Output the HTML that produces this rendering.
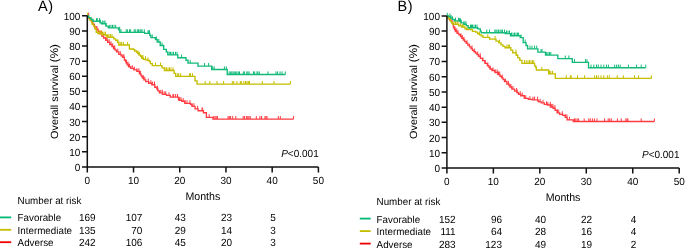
<!DOCTYPE html>
<html><head><meta charset="utf-8"><style>
html,body{margin:0;padding:0;background:#fff;}
svg{display:block;will-change:transform;}
text{font-family:"Liberation Sans", sans-serif;fill:#000;text-rendering:geometricPrecision;}
</style></head><body>
<svg width="685" height="248" viewBox="0 0 685 248">
<rect width="685" height="248" fill="#fff"/>
<path d="M88.6 15.8v-3.1M94.5 26.9v-3.1M97 29.2v-3.1M100 33.8v-3.1M103 36.1v-3.1M106 40.3v-3.1M109.1 42.3v-3.1M112.7 46.5v-3.1M114.7 48.5v-3.1M117.8 51.8v-3.1M120.3 54.3v-3.1M122.9 57.4v-3.1M123.9 57.4v-3.1M126.6 63v-3.1M129.5 66.7v-3.1M132.3 68.3v-3.1M134.3 69.8v-3.1M136.9 71.3v-3.1M138.9 71.3v-3.1M140.4 73.9v-3.1M144.8 79.8v-3.1M148.3 81.6v-3.1M152.6 84.7v-3.1M154.5 84.7v-3.1M157.4 89v-3.1M160.8 92.9v-3.1M165.7 94.4v-3.1M169 95.4v-3.1M172.9 97.1v-3.1M173.6 97.1v-3.1M177.5 97.1v-3.1M181 100.2v-3.1M185 103.3v-3.1M189.9 103.3v-3.1M192 106.3v-3.1M194 106.3v-3.1M197.6 108.9v-3.1M202 110.7v-3.1M202.7 110.7v-3.1M209.2 117.3v-3.1M213.8 119.1v-3.1M215 119.1v-3.1M216.2 119.1v-3.1M217.4 119.1v-3.1M228.1 119.1v-3.1M229.3 119.1v-3.1M230.6 119.1v-3.1M232.7 119.1v-3.1M235.8 119.1v-3.1M243.2 119.1v-3.1M244.6 119.1v-3.1M246.6 119.1v-3.1M247.8 119.1v-3.1M249 119.1v-3.1M250.2 119.1v-3.1M256.3 119.1v-3.1M259.9 119.1v-3.1M261.5 119.1v-3.1M265 119.1v-3.1M266 119.1v-3.1M267 119.1v-3.1M278.3 119.1v-3.1M280.3 119.1v-3.1M293.6 119.1v-3.1M92 21.9v-3.1M101.5 33.8v-3.1M107.2 40.3v-3.1M111 44.5v-3.1M128.1 64.85v-3.1M143.3 78.4v-3.1M150.9 83.2v-3.1M162.3 92.9v-3.1M164.2 94.4v-3.1M175.6 97.1v-3.1M179.4 100.2v-3.1M183.2 101.2v-3.1M187 103.3v-3.1" fill="none" stroke="#FF3A40" stroke-width="1.0"/>
<path d="M87.3 15.8H88.7V18.5H90.62V20.2H91.67V21.9H92.85V24.3H94.4V26.9H96.2V29.2H98.05V31.5H99.9V33.8H101.75V36.1H103.65V38H105.75V40.3H107.7V42.3H109.75V44.5H111.95V46.5H113.55V48.5H114.97V50.15H116.53V51.8H118.8V54.3H121.08V55.85H122.62V57.4H124.4V60H125.68V61.5H126.22V63H127.17V64.85H128.52V66.7H130.75V68.3H133.8V69.8H136.85V71.3H139.4V73.9H140.93V75.45H141.97V77H142.95V78.4H143.85V79.8H145.75V81.6H148.7V83.2H151.75V84.7H154.8V87.2H156.83V89H157.88V90.8H159.4V92.9H162.45V94.4H166.55V95.4H170.3V97.1H178.5V99.7H179.35V100.2H181.75V101.2H184.8V103.3H190.5V104.3H192V106.3H195.05V108.9H198.1V110.7H203.4V112.7H206.4V117.3H213V119.1H293.6" fill="none" stroke="#FF3A40" stroke-width="1.35" stroke-linejoin="miter"/>
<path d="M87.6 15.8v-3.1M99 33.6v-3.1M100 33.6v-3.1M101.3 33.6v-3.1M102.5 34.7v-3.1M104 34.7v-3.1M105.5 34.7v-3.1M107.8 37.2v-3.1M109 37.2v-3.1M110.5 37.2v-3.1M112 37.2v-3.1M117.9 42.3v-3.1M120.2 45v-3.1M121.6 45v-3.1M123.4 45v-3.1M127.6 45v-3.1M138 53.5v-3.1M139.5 55v-3.1M142 58.2v-3.1M143 58.2v-3.1M145.5 59.3v-3.1M148 60.5v-3.1M155.5 65.6v-3.1M160.5 65.6v-3.1M165 70.5v-3.1M166.5 70.5v-3.1M168 70.5v-3.1M169.5 70.5v-3.1M171 70.5v-3.1M173 70.5v-3.1M177.7 76.3v-3.1M178.7 76.3v-3.1M180.7 76.3v-3.1M189.4 76.3v-3.1M190.5 76.3v-3.1M192.5 76.3v-3.1M205.2 84.1v-3.1M209.8 84.1v-3.1M217 84.1v-3.1M223.6 84.1v-3.1M232.3 84.1v-3.1M233.8 84.1v-3.1M236.9 84.1v-3.1M240.3 84.1v-3.1M241.3 84.1v-3.1M243.9 84.1v-3.1M245.5 84.1v-3.1M247 84.1v-3.1M248.3 84.1v-3.1M249.5 84.1v-3.1M262.3 84.1v-3.1M274 84.1v-3.1M290.4 84.1v-3.1" fill="none" stroke="#C4BD00" stroke-width="1.0"/>
<path d="M87.3 15.8H88.22V18.15H90.08V20.5H92V24H93.5V25.8H94.75V28.7H96.25V32.2H97.8V33.6H101.8V34.7H106V35.7H107.3V37.2H113.8V38.9H115.7V40.3H117.5V42.3H118.8V45H129.4V49H133.5V49.6H134.7V51H136.5V52.2H137.6V53.5H139V55H140.5V56.2H141.6V58.2H143.4V59.3H145.6V59.8H147.7V60.5H149.6V61.6H150.4V63.6H152.3V65.6H162V67.8H164.4V70.5H174.1V73.4H175.7V76.3H195V80.8H197.1V84.1H290.4" fill="none" stroke="#C4BD00" stroke-width="1.35" stroke-linejoin="miter"/>
<path d="M96.5 21.2v-3.1M97.3 21.2v-3.1M99.5 21.2v-3.1M100.6 22.8v-3.1M102.7 23.7v-3.1M104 23.7v-3.1M105 23.7v-3.1M106 26.1v-3.1M109.7 27.9v-3.1M111 27.9v-3.1M112.5 27.9v-3.1M114 27.9v-3.1M115.7 27.9v-3.1M119.7 29.8v-3.1M121 32.4v-3.1M126.2 32.4v-3.1M127.4 32.4v-3.1M129.5 32.4v-3.1M130.7 32.4v-3.1M134.1 32.4v-3.1M135.3 32.4v-3.1M137.3 32.4v-3.1M138.5 32.4v-3.1M140 32.4v-3.1M141 32.4v-3.1M142 32.4v-3.1M144.3 32.4v-3.1M148 33.4v-3.1M148.8 33.4v-3.1M149.5 33.4v-3.1M152.3 37.6v-3.1M156.3 39.5v-3.1M158.8 42v-3.1M162 45.5v-3.1M169.3 54.9v-3.1M170.5 54.9v-3.1M172 54.9v-3.1M173.5 54.9v-3.1M175.5 54.9v-3.1M177 54.9v-3.1M181.5 57.7v-3.1M190.2 63.1v-3.1M204.5 66.1v-3.1M208.6 66.1v-3.1M212.7 69.5v-3.1M214.2 69.5v-3.1M224.4 69.5v-3.1M226.3 69.5v-3.1M229.2 74.5v-3.1M230.7 74.5v-3.1M231.8 74.5v-3.1M233 74.5v-3.1M234.2 74.5v-3.1M235.4 74.5v-3.1M236.8 74.5v-3.1M238.3 74.5v-3.1M239.5 74.5v-3.1M243.3 74.5v-3.1M244.4 74.5v-3.1M246.8 74.5v-3.1M247.9 74.5v-3.1M249.1 74.5v-3.1M253.5 74.5v-3.1M254.7 74.5v-3.1M257 74.5v-3.1M257.9 74.5v-3.1M259.3 74.5v-3.1M267.9 74.5v-3.1M276 74.5v-3.1M277.5 74.5v-3.1M280 74.5v-3.1M282 74.5v-3.1M285.3 74.5v-3.1" fill="none" stroke="#12B979" stroke-width="1.0"/>
<path d="M87.3 15.8H88.65V17.6H91V19.5H93V21.2H100V22.8H101.5V23.7H106V26.1H108.3V27.9H118.5V29.8H119.8V32.4H144.7V33.4H149.8V35.3H150.9V37.6H155.4V39.5H157.2V42H160.2V45.5H163.7V49.3H166.3V51.8H167.8V54.9H177.8V57.7H186V60.2H188V63.1H198V66.1H211.7V69.5H227.2V74.5H285.3" fill="none" stroke="#12B979" stroke-width="1.35" stroke-linejoin="miter"/>
<path d="M448.8 18.5v-3.1M452 22.7v-3.1M455 29.6v-3.1M458 33.3v-3.1M461 36.5v-3.1M464 40v-3.1M467 43.3v-3.1M469.5 46.9v-3.1M472 48.6v-3.1M474.6 51.7v-3.1M477.7 54.65v-3.1M480.2 56.2v-3.1M482.8 60.6v-3.1M485.3 63.3v-3.1M487.9 65.7v-3.1M490.4 69v-3.1M493 70.5v-3.1M495 72.5v-3.1M497.2 72.5v-3.1M499.7 74.6v-3.1M502.3 77.8v-3.1M505.3 81.5v-3.1M508.4 84v-3.1M510.9 87v-3.1M513 89.1v-3.1M516.6 91.1v-3.1M517.2 92.65v-3.1M520.2 94.2v-3.1M522.3 95.7v-3.1M525.8 98.3v-3.1M529.9 99.3v-3.1M533 99.8v-3.1M537.6 99.8v-3.1M540.1 101.9v-3.1M543 102.9v-3.1M546.5 104.4v-3.1M550.3 105v-3.1M552.9 107v-3.1M554.9 108.2v-3.1M558.7 112.8v-3.1M562.3 114.3v-3.1M565.3 117.4v-3.1M569.4 119.9v-3.1M574.5 121.5v-3.1M575.8 121.5v-3.1M577.2 121.5v-3.1M578.6 121.5v-3.1M584.2 121.5v-3.1M588.8 121.5v-3.1M590.3 121.5v-3.1M592.4 121.5v-3.1M594.4 121.5v-3.1M597 121.5v-3.1M604.6 121.5v-3.1M608.2 121.5v-3.1M609.7 121.5v-3.1M611.3 121.5v-3.1M617.4 121.5v-3.1M621.2 121.5v-3.1M625.8 121.5v-3.1M627 121.5v-3.1M627.9 121.5v-3.1M641.2 121.5v-3.1M654.4 121.5v-3.1M456.7 31.5v-3.1M462.4 38.25v-3.1M498.5 74.6v-3.1M534.6 99.8v-3.1M547.9 105v-3.1M551.7 107v-3.1M557.4 112.8v-3.1M566.9 117.4v-3.1" fill="none" stroke="#FF3A40" stroke-width="1.0"/>
<path d="M446.9 15.9H448.05V18.5H449.77V19.9H450.93V21.3H451.85V22.7H452.55V24.1H453.35V26.8H454.02V28.2H454.48V29.6H455.4V31.5H457.05V33.3H458.9V34.7H460.45V36.5H461.83V38.25H463.27V40H464.75V41.65H466.25V43.3H467.82V45.1H469.48V46.9H471.02V48.6H472.48V50.3H473.98V51.7H475.52V53.1H477.02V54.65H478.48V56.2H480.35V58.4H482.55V60.6H484.95V63.3H487.4V65.7H489V67.35H490V69H492V70.5H495V72.5H497.85V74.6H499.98V76.2H501.52V77.8H503.05V79.65H504.55V81.5H506.85V84H508.92V85.5H509.98V87H511.8V89.1H514.6V91.1H516.88V92.65H518.43V94.2H520.75V95.7H524.3V98.3H528.35V99.3H532.45V99.8H538V101.2H538.8V101.9H541.15V102.9H544.25V104.4H547.3V105H550.35V107H553V108.2H555.1V110.2H557.15V112.8H559.7V114.3H562.75V115.3H565.3V117.4H567.1V119.9H573.3V121.5H654.4" fill="none" stroke="#FF3A40" stroke-width="1.35" stroke-linejoin="miter"/>
<path d="M460.3 25.9v-3.1M462.2 27.1v-3.1M464 27.1v-3.1M454 24.3v-3.1M455.5 24.3v-3.1M457 24.3v-3.1M458 24.3v-3.1M463 27.1v-3.1M467 29.6v-3.1M469 29.6v-3.1M471 29.6v-3.1M479.5 34.8v-3.1M487.8 37.4v-3.1M495.1 39.1v-3.1M499.5 42.8v-3.1M507 47.7v-3.1M508.3 47.7v-3.1M509.5 47.7v-3.1M516 52.7v-3.1M524.5 63.3v-3.1M526.2 63.3v-3.1M528 63.3v-3.1M529.5 63.3v-3.1M531 63.3v-3.1M532.5 63.3v-3.1M533.8 63.3v-3.1M541.8 70v-3.1M549.5 73.9v-3.1M550.8 73.9v-3.1M552.5 73.9v-3.1M566.3 78.4v-3.1M570.3 78.4v-3.1M571.2 78.4v-3.1M577.5 78.4v-3.1M584.6 78.4v-3.1M594.7 78.4v-3.1M596.5 78.4v-3.1M598.3 78.4v-3.1M601 78.4v-3.1M603.8 78.4v-3.1M607.4 78.4v-3.1M609.3 78.4v-3.1M617.2 78.4v-3.1M623.3 78.4v-3.1M634.5 78.4v-3.1M638.6 78.4v-3.1M651.4 78.4v-3.1" fill="none" stroke="#C4BD00" stroke-width="1.0"/>
<path d="M446.9 15.9H448.25V18.5H450.3V21.3H451.5V22.7H452.65V24.3H458.7V25.9H461.5V27.1H465V28.7H466.5V29.6H472.5V31.3H475.6V32.1H477.5V33.5H479.3V34.8H481.2V35.8H483V37.4H489.6V39.1H496V41.1H498.9V42.8H501V44.9H503V46.4H505V47.7H510.8V50.1H512.7V52.7H516.2V55.2H517.8V57.8H519.8V60.3H521.9V63.3H534.6V65.8H535.8V67.5H536.4V70H548.7V73.9H555.3V78.4H651.4" fill="none" stroke="#C4BD00" stroke-width="1.35" stroke-linejoin="miter"/>
<path d="M461.2 22.8v-3.1M464 24.2v-3.1M465.9 24.2v-3.1M447.3 15.9v-3.1M449.9 16.6v-3.1M451 18v-3.1M452.5 19.4v-3.1M455.5 20.8v-3.1M458.5 20.8v-3.1M459.5 21.4v-3.1M460.5 21.4v-3.1M470.5 27.7v-3.1M471.5 27.7v-3.1M472.5 27.7v-3.1M474 27.7v-3.1M475.5 27.7v-3.1M477 27.7v-3.1M486.8 32.7v-3.1M489.5 32.7v-3.1M494.8 32.7v-3.1M495.9 32.7v-3.1M497 32.7v-3.1M498.4 32.7v-3.1M500 32.7v-3.1M501.2 32.7v-3.1M502.5 32.7v-3.1M504.5 32.7v-3.1M506.5 33.6v-3.1M508 33.6v-3.1M509.5 33.6v-3.1M511.5 35.7v-3.1M513 35.7v-3.1M514.5 35.7v-3.1M516 35.7v-3.1M517.5 35.7v-3.1M518.6 35.7v-3.1M521.1 37.6v-3.1M525.2 42.6v-3.1M530 48.8v-3.1M532 48.8v-3.1M534.6 48.8v-3.1M536.7 48.8v-3.1M541 52.1v-3.1M542 52.1v-3.1M546.7 55.1v-3.1M548 55.1v-3.1M549.5 55.1v-3.1M550.8 55.1v-3.1M565.3 58.6v-3.1M568.9 58.6v-3.1M574.5 62.3v-3.1M585.5 62.3v-3.1M587 62.3v-3.1M591 67.7v-3.1M593.8 67.7v-3.1M596.5 67.7v-3.1M598.3 67.7v-3.1M601 67.7v-3.1M603.8 67.7v-3.1M606.5 67.7v-3.1M608.4 67.7v-3.1M614.7 67.7v-3.1M616.6 67.7v-3.1M618.4 67.7v-3.1M620.2 67.7v-3.1M628.4 67.7v-3.1M636.6 67.7v-3.1M641.2 67.7v-3.1M645.8 67.7v-3.1" fill="none" stroke="#12B979" stroke-width="1.0"/>
<path d="M446.9 15.9H448.25V16.6H450.55V18H452.4V19.4H454.25V20.8H459.5V21.4H461.05V22.8H464V24.2H466.35V25.6H468.2V27.7H477.8V28.8H480.3V31.1H481.2V32.7H505.3V33.6H510.5V35.7H520.2V37.6H523.2V42.6H526V45.5H527.6V48.8H537.9V52.1H545.5V55.1H557.8V58.6H572.3V62.3H588.5V67.7H645.8" fill="none" stroke="#12B979" stroke-width="1.35" stroke-linejoin="miter"/>
<path d="M87.3 15.8V166.9H318.4" fill="none" stroke="#111" stroke-width="1.5"/>
<path d="M82 166.9H87.3M82 151.79H87.3M82 136.68H87.3M82 121.57H87.3M82 106.46H87.3M82 91.35H87.3M82 76.24H87.3M82 61.13H87.3M82 46.02H87.3M82 30.91H87.3M82 15.8H87.3M87.3 166.9V172.5M133.52 166.9V172.5M179.74 166.9V172.5M225.96 166.9V172.5M272.18 166.9V172.5M318.4 166.9V172.5" fill="none" stroke="#111" stroke-width="1.5"/>
<text transform="translate(80.4 170.85) scale(1 1.035)" text-anchor="end" font-size="10">0</text>
<text transform="translate(80.4 155.74) scale(1 1.035)" text-anchor="end" font-size="10">10</text>
<text transform="translate(80.4 140.63) scale(1 1.035)" text-anchor="end" font-size="10">20</text>
<text transform="translate(80.4 125.52) scale(1 1.035)" text-anchor="end" font-size="10">30</text>
<text transform="translate(80.4 110.41) scale(1 1.035)" text-anchor="end" font-size="10">40</text>
<text transform="translate(80.4 95.3) scale(1 1.035)" text-anchor="end" font-size="10">50</text>
<text transform="translate(80.4 80.19) scale(1 1.035)" text-anchor="end" font-size="10">60</text>
<text transform="translate(80.4 65.08) scale(1 1.035)" text-anchor="end" font-size="10">70</text>
<text transform="translate(80.4 49.97) scale(1 1.035)" text-anchor="end" font-size="10">80</text>
<text transform="translate(80.4 34.86) scale(1 1.035)" text-anchor="end" font-size="10">90</text>
<text transform="translate(80.4 19.75) scale(1 1.035)" text-anchor="end" font-size="10">100</text>
<text transform="translate(87.3 183.9) scale(1 1.035)" text-anchor="middle" font-size="10">0</text>
<text transform="translate(133.52 183.9) scale(1 1.035)" text-anchor="middle" font-size="10">10</text>
<text transform="translate(179.74 183.9) scale(1 1.035)" text-anchor="middle" font-size="10">20</text>
<text transform="translate(225.96 183.9) scale(1 1.035)" text-anchor="middle" font-size="10">30</text>
<text transform="translate(272.18 183.9) scale(1 1.035)" text-anchor="middle" font-size="10">40</text>
<text transform="translate(318.4 183.9) scale(1 1.035)" text-anchor="middle" font-size="10">50</text>
<text transform="translate(38.0 11.0) scale(1 1.035)" font-size="14.5">A<tspan dx="0.6">)</tspan></text>
<path d="M446.9 15.9V168H679.2" fill="none" stroke="#111" stroke-width="1.5"/>
<path d="M441.6 168H446.9M441.6 152.79H446.9M441.6 137.58H446.9M441.6 122.37H446.9M441.6 107.16H446.9M441.6 91.95H446.9M441.6 76.74H446.9M441.6 61.53H446.9M441.6 46.32H446.9M441.6 31.11H446.9M441.6 15.9H446.9M446.9 168V173.6M493.36 168V173.6M539.82 168V173.6M586.28 168V173.6M632.74 168V173.6M679.2 168V173.6" fill="none" stroke="#111" stroke-width="1.5"/>
<text transform="translate(440 171.95) scale(1 1.035)" text-anchor="end" font-size="10">0</text>
<text transform="translate(440 156.74) scale(1 1.035)" text-anchor="end" font-size="10">10</text>
<text transform="translate(440 141.53) scale(1 1.035)" text-anchor="end" font-size="10">20</text>
<text transform="translate(440 126.32) scale(1 1.035)" text-anchor="end" font-size="10">30</text>
<text transform="translate(440 111.11) scale(1 1.035)" text-anchor="end" font-size="10">40</text>
<text transform="translate(440 95.9) scale(1 1.035)" text-anchor="end" font-size="10">50</text>
<text transform="translate(440 80.69) scale(1 1.035)" text-anchor="end" font-size="10">60</text>
<text transform="translate(440 65.48) scale(1 1.035)" text-anchor="end" font-size="10">70</text>
<text transform="translate(440 50.27) scale(1 1.035)" text-anchor="end" font-size="10">80</text>
<text transform="translate(440 35.06) scale(1 1.035)" text-anchor="end" font-size="10">90</text>
<text transform="translate(440 19.85) scale(1 1.035)" text-anchor="end" font-size="10">100</text>
<text transform="translate(446.9 185) scale(1 1.035)" text-anchor="middle" font-size="10">0</text>
<text transform="translate(493.36 185) scale(1 1.035)" text-anchor="middle" font-size="10">10</text>
<text transform="translate(539.82 185) scale(1 1.035)" text-anchor="middle" font-size="10">20</text>
<text transform="translate(586.28 185) scale(1 1.035)" text-anchor="middle" font-size="10">30</text>
<text transform="translate(632.74 185) scale(1 1.035)" text-anchor="middle" font-size="10">40</text>
<text transform="translate(679.2 185) scale(1 1.035)" text-anchor="middle" font-size="10">50</text>
<text transform="translate(397.5 11.0) scale(1 1.035)" font-size="14.5">B<tspan dx="0.6">)</tspan></text>
<text transform="translate(57.6 138.9) scale(1 1.035) rotate(-90)" font-size="10.43">Overall survival <tspan font-size="11.21">(%)</tspan></text>
<text transform="translate(416.5 138.9) scale(1 1.035) rotate(-90)" font-size="10.43">Overall survival <tspan font-size="11.21">(%)</tspan></text>
<text transform="translate(202.85 200.4) scale(1 1.035)" text-anchor="middle" font-size="10.6">Months</text>
<text transform="translate(563.05 201.2) scale(1 1.035)" text-anchor="middle" font-size="10.6">Months</text>
<text transform="translate(318.7 156.7) scale(1 1.035)" text-anchor="end" font-size="10"><tspan font-style="italic">P</tspan>&lt;0.001</text>
<text transform="translate(679.5 157.8) scale(1 1.035)" text-anchor="end" font-size="10"><tspan font-style="italic">P</tspan>&lt;0.001</text>
<text transform="translate(17.6 204.2) scale(1 1.035)" font-size="9.8">Number at risk</text>
<path d="M0 217.4H11.2" stroke="#00B873" stroke-width="1.8"/>
<text transform="translate(17.6 221) scale(1 1.035)" font-size="9.8">Favorable</text>
<text transform="translate(95.6 221) scale(1 1.035)" text-anchor="end" font-size="10">169</text>
<text transform="translate(142.4 221) scale(1 1.035)" text-anchor="end" font-size="10">107</text>
<text transform="translate(185.9 221) scale(1 1.035)" text-anchor="end" font-size="10">43</text>
<text transform="translate(232 221) scale(1 1.035)" text-anchor="end" font-size="10">23</text>
<text transform="translate(275.8 221) scale(1 1.035)" text-anchor="end" font-size="10">5</text>
<path d="M0 229.8H11.2" stroke="#C4BE00" stroke-width="1.8"/>
<text transform="translate(17.6 233.7) scale(1 1.035)" font-size="9.8">Intermediate</text>
<text transform="translate(95.6 233.7) scale(1 1.035)" text-anchor="end" font-size="10">135</text>
<text transform="translate(142.4 233.7) scale(1 1.035)" text-anchor="end" font-size="10">70</text>
<text transform="translate(185.9 233.7) scale(1 1.035)" text-anchor="end" font-size="10">29</text>
<text transform="translate(232 233.7) scale(1 1.035)" text-anchor="end" font-size="10">14</text>
<text transform="translate(275.8 233.7) scale(1 1.035)" text-anchor="end" font-size="10">3</text>
<path d="M0 242.2H11.2" stroke="#F00000" stroke-width="1.8"/>
<text transform="translate(17.6 246.2) scale(1 1.035)" font-size="9.8">Adverse</text>
<text transform="translate(95.6 246.2) scale(1 1.035)" text-anchor="end" font-size="10">242</text>
<text transform="translate(142.4 246.2) scale(1 1.035)" text-anchor="end" font-size="10">106</text>
<text transform="translate(185.9 246.2) scale(1 1.035)" text-anchor="end" font-size="10">45</text>
<text transform="translate(232 246.2) scale(1 1.035)" text-anchor="end" font-size="10">20</text>
<text transform="translate(275.8 246.2) scale(1 1.035)" text-anchor="end" font-size="10">3</text>
<text transform="translate(376.6 204.9) scale(1 1.035)" font-size="9.8">Number at risk</text>
<path d="M359.8 218.6H370.7" stroke="#00B873" stroke-width="1.8"/>
<text transform="translate(376.6 222.7) scale(1 1.035)" font-size="9.8">Favorable</text>
<text transform="translate(455.6 222.7) scale(1 1.035)" text-anchor="end" font-size="10">152</text>
<text transform="translate(502 222.7) scale(1 1.035)" text-anchor="end" font-size="10">96</text>
<text transform="translate(546 222.7) scale(1 1.035)" text-anchor="end" font-size="10">40</text>
<text transform="translate(592 222.7) scale(1 1.035)" text-anchor="end" font-size="10">22</text>
<text transform="translate(636.3 222.7) scale(1 1.035)" text-anchor="end" font-size="10">4</text>
<path d="M359.8 231.1H370.7" stroke="#C4BE00" stroke-width="1.8"/>
<text transform="translate(376.6 234.9) scale(1 1.035)" font-size="9.8">Intermediate</text>
<text transform="translate(455.6 234.9) scale(1 1.035)" text-anchor="end" font-size="10">111</text>
<text transform="translate(502 234.9) scale(1 1.035)" text-anchor="end" font-size="10">64</text>
<text transform="translate(546 234.9) scale(1 1.035)" text-anchor="end" font-size="10">28</text>
<text transform="translate(592 234.9) scale(1 1.035)" text-anchor="end" font-size="10">16</text>
<text transform="translate(636.3 234.9) scale(1 1.035)" text-anchor="end" font-size="10">4</text>
<path d="M359.8 243.6H370.7" stroke="#F00000" stroke-width="1.8"/>
<text transform="translate(376.6 248) scale(1 1.035)" font-size="9.8">Adverse</text>
<text transform="translate(455.6 248) scale(1 1.035)" text-anchor="end" font-size="10">283</text>
<text transform="translate(502 248) scale(1 1.035)" text-anchor="end" font-size="10">123</text>
<text transform="translate(546 248) scale(1 1.035)" text-anchor="end" font-size="10">49</text>
<text transform="translate(592 248) scale(1 1.035)" text-anchor="end" font-size="10">19</text>
<text transform="translate(636.3 248) scale(1 1.035)" text-anchor="end" font-size="10">2</text>
</svg>
</body></html>
